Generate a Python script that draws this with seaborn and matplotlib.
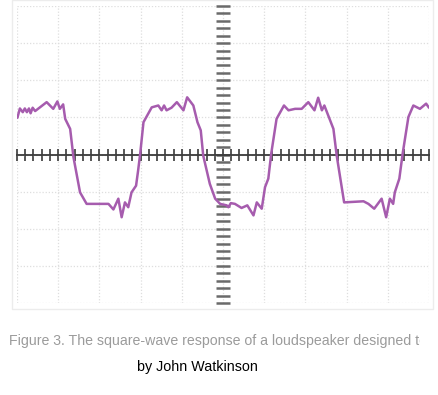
import numpy as np
import pandas as pd
import matplotlib
matplotlib.use("Agg")
import matplotlib.pyplot as plt
import matplotlib.patches as mpatches
from matplotlib.transforms import Bbox
from matplotlib.ticker import MultipleLocator, NullFormatter
import seaborn as sns

# time (screen divisions) and response (vertical divisions)
t = [0.01, 0.07, 0.14, 0.19, 0.24, 0.29, 0.33, 0.38, 0.44, 0.72, 0.88, 0.98, 1.04, 1.12,
     1.17, 1.29, 1.37, 1.53, 1.69, 2.22, 2.34, 2.46, 2.54, 2.62, 2.70, 2.78, 2.89, 2.94,
     2.99, 3.07, 3.27, 3.43, 3.51, 3.57, 3.63, 3.75, 3.88, 4.04, 4.13, 4.28, 4.38, 4.46,
     4.52, 4.68, 4.81, 4.93, 5.09, 5.13, 5.19, 5.29, 5.45, 5.59, 5.74, 5.82, 5.94, 6.02,
     6.10, 6.17, 6.30, 6.48, 6.59, 6.75, 6.91, 7.07, 7.22, 7.31, 7.40, 7.46, 7.60, 7.68,
     7.76, 7.94, 8.41, 8.53, 8.67, 8.85, 8.96, 9.05, 9.13, 9.17, 9.28, 9.36, 9.50, 9.62,
     9.78, 9.93, 10.0]
response = [0.99, 1.24, 1.14, 1.24, 1.14, 1.24, 1.11, 1.26, 1.17, 1.41, 1.23, 1.43, 1.23, 1.35,
            0.96, 0.69, -0.07, -1.02, -1.33, -1.33, -1.48, -1.19, -1.69, -1.29, -1.42, -1.02, -0.84, -0.43,
            0.02, 0.87, 1.27, 1.32, 1.19, 1.32, 1.19, 1.26, 1.41, 1.19, 1.54, 1.32, 0.87, 0.65,
            -0.03, -0.79, -1.19, -1.33, -1.37, -1.42, -1.31, -1.33, -1.44, -1.37, -1.64, -1.29, -1.46, -0.88,
            -0.65, 0.02, 0.96, 1.32, 1.19, 1.23, 1.23, 1.41, 1.19, 1.53, 1.19, 1.32, 0.92, 0.69,
            -0.03, -1.29, -1.26, -1.33, -1.46, -1.19, -1.69, -1.19, -1.33, -1.02, -0.65, 0.02, 1.01, 1.32,
            1.23, 1.37, 1.26]

caption = "Figure 3. The square-wave response of a loudspeaker designed to"
byline = "by John Watkinson"

sns.set_theme(style="white")
plt.rcParams['font.family'] = ['Liberation Sans', 'DejaVu Sans']

W, H = 438, 395
fig = plt.figure(figsize=(W / 100, H / 100), dpi=100)
fig.patch.set_facecolor("white")

# faint outer frame of the scope screen
fig.patches.append(mpatches.Rectangle((12 / W, 1 - 309 / H), 421 / W, 309 / H,
                                      transform=fig.transFigure, fill=False,
                                      edgecolor="#ececec", linewidth=1.0))

ax = fig.add_axes([17 / W, 1 - 303 / H, 412 / W, 297 / H])
ax.set_facecolor("white")

df = pd.DataFrame({"t": t, "v": response})
sns.lineplot(data=df, x="t", y="v", ax=ax, color="#a65cae", linewidth=1.8,
             estimator=None, sort=False, zorder=5)

ax.set_xlim(0, 10)
ax.set_ylim(-4, 4)
ax.set_xlabel("")
ax.set_ylabel("")

ax.xaxis.set_major_locator(MultipleLocator(1))
ax.yaxis.set_major_locator(MultipleLocator(1))
ax.xaxis.set_minor_locator(MultipleLocator(0.2))
ax.yaxis.set_minor_locator(MultipleLocator(0.2))
ax.xaxis.set_major_formatter(NullFormatter())
ax.yaxis.set_major_formatter(NullFormatter())

ax.grid(True, which="major", color="#dedede", linestyle=(0, (1, 1.5)), linewidth=0.9)

for s in ["top", "right"]:
    ax.spines[s].set_visible(False)
ax.spines["bottom"].set_position(("data", 0))
ax.spines["bottom"].set_color("#3a3a3a")
ax.spines["bottom"].set_linewidth(1.3)
ax.spines["left"].set_position(("data", 5))
ax.spines["left"].set_color("none")

ax.tick_params(axis="x", which="both", direction="inout", length=8, width=1.2,
               color="#3a3a3a", bottom=True, top=False)
ax.tick_params(axis="y", which="both", direction="inout", length=10, width=1.8,
               color="#6a6a6a", left=True, right=False)
for tk in ax.xaxis.get_major_ticks() + ax.xaxis.get_minor_ticks():
    tk.tick1line.set_clip_on(False)

txt = fig.text(9 / W, 1 - 341 / H, caption, ha="left", va="center",
               color="#9b9b9b", fontsize=10.2)
txt.set_clip_box(Bbox.from_extents(0, 0, 420, H))
txt.set_clip_on(True)
fig.text(197 / W, 1 - 367 / H, byline, ha="center", va="center",
         color="black", fontsize=10.3)

fig.savefig("out.png", dpi=100, facecolor="white")
